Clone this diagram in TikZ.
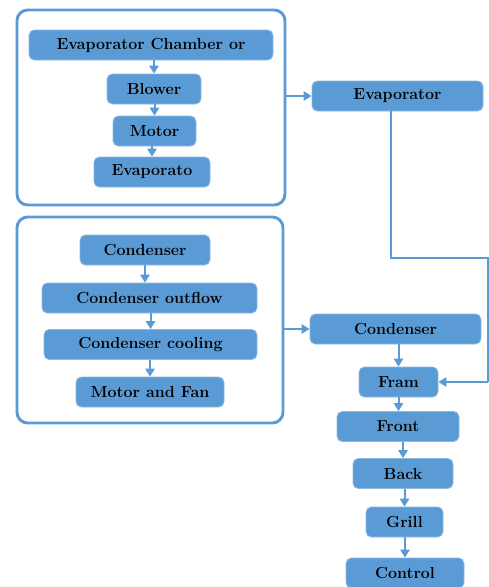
\documentclass[tikz,border=0pt]{standalone}
\usepackage{tikz}
\usetikzlibrary{positioning,arrows.meta}

\definecolor{boxblue}{HTML}{5B9BD5}
\definecolor{rimblue}{HTML}{8DB8E2}

\tikzset{
    blk/.style={draw=rimblue, line width=0.6pt, fill=boxblue, rounded corners=4pt,
        inner sep=0pt, minimum height=22.5pt,
        font=\fontsize{12}{14}\selectfont\bfseries},
    group/.style={draw=boxblue, line width=2.2pt, rounded corners=8pt, inner sep=0pt},
    arr/.style={draw=boxblue, line width=1.5pt, -{Triangle[width=7pt,length=6pt]}},
    wire/.style={draw=boxblue, line width=1.5pt}
}

\begin{document}
\begin{tikzpicture}[x=0.75pt, y=-0.75pt]
    \useasboundingbox (0,0) rectangle (489,587);

    % evaporator group
    \node[group, minimum width=201pt, minimum height=146.25pt] (evapgroup) at (151,107.5) {};
    \node[blk, minimum width=183pt] (echamber) at (151,45) {Evaporator Chamber or};
    \node[blk, minimum width=70.5pt] (blower) at (154,89) {Blower};
    \node[blk, minimum width=62.25pt] (emotor) at (154.5,131) {Motor};
    \node[blk, minimum width=87pt] (evapo) at (152,172) {Evaporato};
    \draw[arr] (echamber.south -| blower) -- (blower.north);
    \draw[arr] (blower.south -| emotor) -- (emotor.north);
    \draw[arr] (emotor.south -| evapo) -- (evapo.north);

    % condenser group
    \node[group, minimum width=199.5pt, minimum height=154.5pt] (condgroup) at (150,320) {};
    \node[blk, minimum width=97.5pt] (cond) at (145,250) {Condenser};
    \node[blk, minimum width=161.25pt] (outflow) at (149.5,298) {Condenser outflow};
    \node[blk, minimum width=159.75pt] (cooling) at (150.5,344.5) {Condenser cooling};
    \node[blk, minimum width=111pt] (motorfan) at (150,392) {Motor and Fan};
    \draw[arr] (cond.south) -- (cond.south |- outflow.north);
    \draw[arr] (outflow.south -| cooling) -- (cooling.north);
    \draw[arr] (cooling.south -| motorfan) -- (motorfan.north);

    % right column
    \node[blk, minimum width=128.25pt] (evap) at (397.5,96) {Evaporator};
    \node[blk, minimum width=128.25pt] (condr) at (395.5,329) {Condenser};
    \node[blk, minimum width=59.25pt] (fram) at (398.5,382) {Fram};
    \node[blk, minimum width=91.5pt] (front) at (398,426.5) {Front};
    \node[blk, minimum width=75pt] (back) at (403,473.5) {Back};
    \node[blk, minimum width=57.75pt] (grill) at (404.5,522) {Grill};
    \node[blk, minimum width=88.5pt] (control) at (405,573) {Control};

    \draw[arr] (evapgroup.east |- evap) -- (evap.west);
    \draw[arr] (condgroup.east |- condr) -- (condr.west);
    \draw[arr] (condr.south -| fram) -- (fram.north);
    \draw[arr] (fram.south) -- (fram.south |- front.north);
    \draw[arr] (front.south -| back) -- (back.north);
    \draw[arr] (back.south -| grill) -- (grill.north);
    \draw[arr] (grill.south -| control) -- (control.north);

    \coordinate (bend) at (488,258);
    \draw[wire] (evap.south -| 391,0) |- (bend) -- (bend |- fram);
    \draw[arr] (bend |- fram) -- (fram.east);
\end{tikzpicture}
\end{document}
